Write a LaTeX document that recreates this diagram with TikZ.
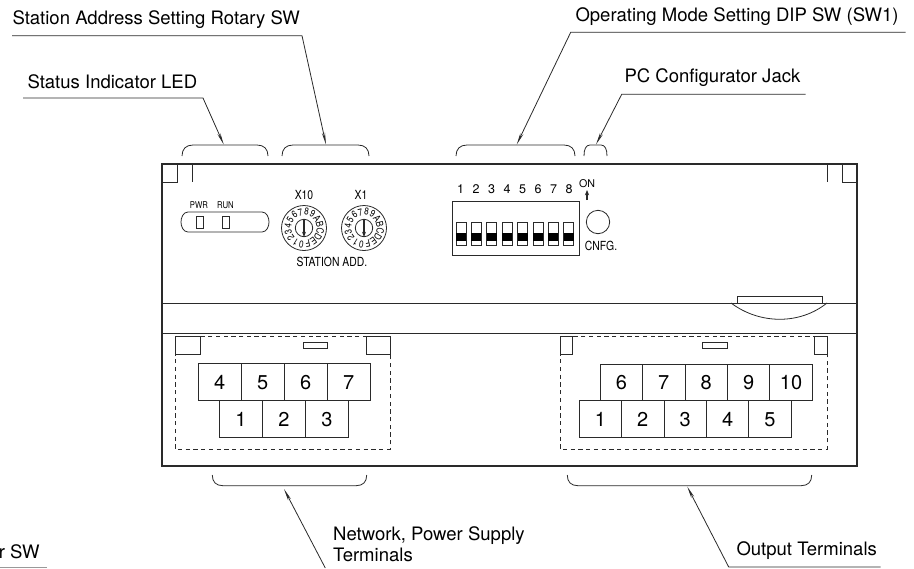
\documentclass[tikz,border=0pt]{standalone}
\usepackage{fontspec}
\setmainfont{TeX Gyre Heros}
\newfontfamily\narrowfont[FakeStretch=0.83]{TeX Gyre Heros}
\usetikzlibrary{arrows.meta}

\tikzset{every picture/.style={line width=0.75pt}}
\definecolor{inkgrey}{HTML}{2A2A2A}
\tikzset{
  leader/.style={draw=inkgrey,line width=0.6pt,-{Stealth[length=9pt,width=2.4pt]}},
  casing/.style={draw=inkgrey,line width=1pt},
  thinline/.style={draw=inkgrey,line width=0.6pt},
  dashbox/.style={draw=inkgrey,line width=0.7pt,dash pattern=on 3.2pt off 2.6pt},
  cell/.style={draw=inkgrey,line width=0.75pt,anchor=north west,inner sep=0pt,font=\fontsize{15}{17}\selectfont,text=black,text height=10.8pt,text depth=0pt},
  callout/.style={anchor=base west,font=\fontsize{13.9}{15.75}\selectfont,inner sep=0pt,text=black},
  tinylabel/.style={inner sep=0pt,font=\narrowfont\fontsize{7}{8}\selectfont,text=black},
  smalllabel/.style={inner sep=0pt,font=\narrowfont\fontsize{9.4}{11}\selectfont,text=black},
  dialchar/.style={inner sep=0pt,font=\narrowfont\fontsize{7.4}{8}\selectfont,text=black}
}

\begin{document}
\begin{tikzpicture}[x=0.75pt,y=0.75pt,yscale=-1,xscale=1]
\useasboundingbox (0,0) rectangle (914,568);

% casing
\draw [casing] (162,164) rectangle (857,466);
\draw [thinline] (162,303) -- (857,303);
\draw [thinline] (162,333) -- (857,333);
\draw [thinline] (162,182) -- (177,182) -- (177,164);
\draw [thinline] (192,164) -- (192,182);
\draw [thinline] (827,164) -- (827,182);
\draw [thinline] (842,164) -- (842,182) -- (857,182);
\draw [thinline] (737,303) -- (737,296) -- (822,296) -- (822,303);
\draw [thinline] (731,303) .. controls (760,324.7) and (800,324.7) .. (827,303);

% callouts
\node [callout] (statusText) at (27,88.3) {Status Indicator LED};
\node [callout] (stationText) at (12,24) {Station Address Setting Rotary SW};
\node [callout] (modeText) at (575,21.7) {Operating Mode Setting DIP SW (SW1)};
\node [callout] (jackText) at (624,82.7) {PC Configurator Jack};
\node [callout,anchor=base east] (rotaryText) at (40,558) {r SW};
\node [callout,align=left,anchor=west] (networkText) at (332.7,544.5) {Network, Power Supply\\Terminals};
\node [callout] (outputText) at (736,555) {Output Terminals};

\coordinate (statusStart) at (23,98);
\coordinate (statusElbow) at (203,98);
\coordinate (statusTip) at (223.7,144.5);
\coordinate (stationStart) at (12,35.7);
\coordinate (stationElbow) at (302,35.7);
\coordinate (stationTip) at (326,144.5);
\coordinate (modeStart) at (905.7,32.3);
\coordinate (modeElbow) at (570.7,32.3);
\coordinate (modeTip) at (516.7,144.5);
\coordinate (jackStart) at (805.7,94.3);
\coordinate (jackElbow) at (621.7,94.3);
\coordinate (jackTip) at (596,144.5);
\coordinate (networkFoot) at (325.3,568);
\coordinate (networkTip) at (284,489);
\coordinate (outputStart) at (880.7,567);
\coordinate (outputElbow) at (728.7,567);
\coordinate (outputTip) at (687.3,486.7);
\coordinate (rotaryStart) at (0,567);
\coordinate (rotaryEnd) at (47,567);

\draw [leader] (statusStart) -- (statusElbow) -- (statusTip);
\draw [leader] (stationStart) -- (stationElbow) -- (stationTip);
\draw [leader] (modeStart) -- (modeElbow) -- (modeTip);
\draw [leader] (jackStart) -- (jackElbow) -- (jackTip);
\draw [leader] (networkFoot) -- (networkTip);
\draw [leader] (outputStart) -- (outputElbow) -- (outputTip);
\draw [thinline,draw=black!40] (rotaryStart) -- (rotaryEnd);

% brackets
\draw [thinline] (182,156) .. controls (182,149) and (186,145) .. (193,145) -- (257,145) .. controls (264,145) and (268,149) .. (268,156);
\draw [thinline] (282,156) .. controls (282,149) and (286,145) .. (293,145) -- (358,145) .. controls (365,145) and (369,149) .. (369,156);
\draw [thinline] (456,156) .. controls (456,149) and (460,145) .. (467,145) -- (564,145) .. controls (571,145) and (575,149) .. (575,156);
\draw [thinline] (584,156) .. controls (584,149) and (586,145) .. (590,145) -- (601,145) .. controls (605,145) and (607,149) .. (607,156);
\draw [thinline] (212.3,475) .. controls (212.3,482) and (216,485.7) .. (223,485.7) -- (356,485.7) .. controls (363,485.7) and (366.7,482) .. (366.7,475);
\draw [thinline] (567.3,475) .. controls (567.3,482) and (571,485.7) .. (578,485.7) -- (801,485.7) .. controls (808,485.7) and (811.7,482) .. (811.7,475);

% indicator window
\draw [thinline] (188,212) -- (262,212) .. controls (267,212) and (269,218) .. (269,222) .. controls (269,226) and (267,232) .. (262,232) -- (188,232) .. controls (183,232) and (181,226) .. (181,222) .. controls (181,218) and (183,212) .. (188,212) -- cycle;
\draw [thinline] (196,216) rectangle (203,228);
\draw [thinline] (222,216) rectangle (229,228);
\node [tinylabel] (pwrLabel) at (199,205) {PWR};
\node [tinylabel] (runLabel) at (225.5,205) {RUN};

% rotary switches
\node [smalllabel] (xtenLabel) at (304,195) {X10};
\node [smalllabel] (xoneLabel) at (361,195) {X1};
\node [smalllabel] (addLabel) at (332,262) {STATION ADD.};
\foreach \cx in {304,364}{
  \draw [thinline] (\cx,228) circle (22.5);
  \draw [thinline] (\cx,228) circle (8.7);
  \draw [draw=inkgrey,line width=1pt,-{Stealth[length=4pt,width=3pt]}] (\cx,219) -- (\cx,237);
  \foreach \ch [count=\i from 0] in {0,1,2,3,4,5,6,7,8,9,A,B,C,D,E,F}{
    \node [dialchar,rotate={171-\i*22.5}] (dial\cx char\i) at ({\cx+16.3*cos(261-\i*22.5)},{228-16.3*sin(261-\i*22.5)}) {\ch};
  }
}

% dip switch
\draw [thinline] (452,201) rectangle (579,255);
\foreach \n [count=\i from 0] in {1,...,8}{
  \node [inner sep=0pt,font=\fontsize{9.4}{11}\selectfont] (dipNum\n) at ({460.7+15.5*\i},189) {\n};
  \draw [thinline] ({456+15.4*\i},222) rectangle ({466+15.4*\i},245);
  \fill [black] ({456+15.4*\i},232.5) rectangle ({466+15.4*\i},240.5);
}
\node [inner sep=0pt,font=\fontsize{8}{9}\selectfont] (onLabel) at (587,184) {ON};
\coordinate (onFoot) at (587,200);
\coordinate (onTip) at (587,190);
\draw [draw=inkgrey,line width=0.8pt,-{Stealth[length=4pt,width=3.2pt]}] (onFoot) -- (onTip);
\draw [thinline] (598,222) circle (11.7);
\node [smalllabel] (cnfgLabel) at (601,246) {CNFG.};

% left terminal block
\draw [dashbox] (175,336) rectangle (390,449);
\draw [thinline] (175,336) rectangle (200,354);
\draw [thinline] (366,336) rectangle (390,354);
\draw [thinline] (303,342) rectangle (327,348);
\node [cell,minimum width=43*0.75pt,minimum height=37.3*0.75pt] (lefta) at (197.7,363) {4};
\node [cell,minimum width=43*0.75pt,minimum height=37.3*0.75pt] (leftb) at (240.7,363) {5};
\node [cell,minimum width=43*0.75pt,minimum height=37.3*0.75pt] (leftc) at (283.7,363) {6};
\node [cell,minimum width=43*0.75pt,minimum height=37.3*0.75pt] (leftd) at (326.7,363) {7};
\node [cell,minimum width=43*0.75pt,minimum height=36.4*0.75pt] (lefte) at (219,400.3) {1};
\node [cell,minimum width=43*0.75pt,minimum height=36.4*0.75pt] (leftf) at (262,400.3) {2};
\node [cell,minimum width=43*0.75pt,minimum height=36.4*0.75pt] (leftg) at (305,400.3) {3};

% right terminal block
\draw [dashbox] (560,336) rectangle (827,449);
\draw [thinline] (560,336) rectangle (572,354);
\draw [thinline] (814,336) rectangle (827,354);
\draw [thinline] (702,342) rectangle (727,348);
\node [cell,minimum width=42.4*0.75pt,minimum height=36.3*0.75pt] (righta) at (599.7,364) {6};
\node [cell,minimum width=42.4*0.75pt,minimum height=36.3*0.75pt] (rightb) at (642.1,364) {7};
\node [cell,minimum width=42.4*0.75pt,minimum height=36.3*0.75pt] (rightc) at (684.5,364) {8};
\node [cell,minimum width=42.4*0.75pt,minimum height=36.3*0.75pt] (rightd) at (726.9,364) {9};
\node [cell,minimum width=42.4*0.75pt,minimum height=36.3*0.75pt] (righte) at (769.3,364) {10};
\node [cell,minimum width=42.4*0.75pt,minimum height=36.4*0.75pt] (rightf) at (578.7,400.3) {1};
\node [cell,minimum width=42.4*0.75pt,minimum height=36.4*0.75pt] (rightg) at (621.1,400.3) {2};
\node [cell,minimum width=42.4*0.75pt,minimum height=36.4*0.75pt] (righth) at (663.5,400.3) {3};
\node [cell,minimum width=42.4*0.75pt,minimum height=36.4*0.75pt] (righti) at (705.9,400.3) {4};
\node [cell,minimum width=42.4*0.75pt,minimum height=36.4*0.75pt] (rightj) at (748.3,400.3) {5};

\end{tikzpicture}
\end{document}
